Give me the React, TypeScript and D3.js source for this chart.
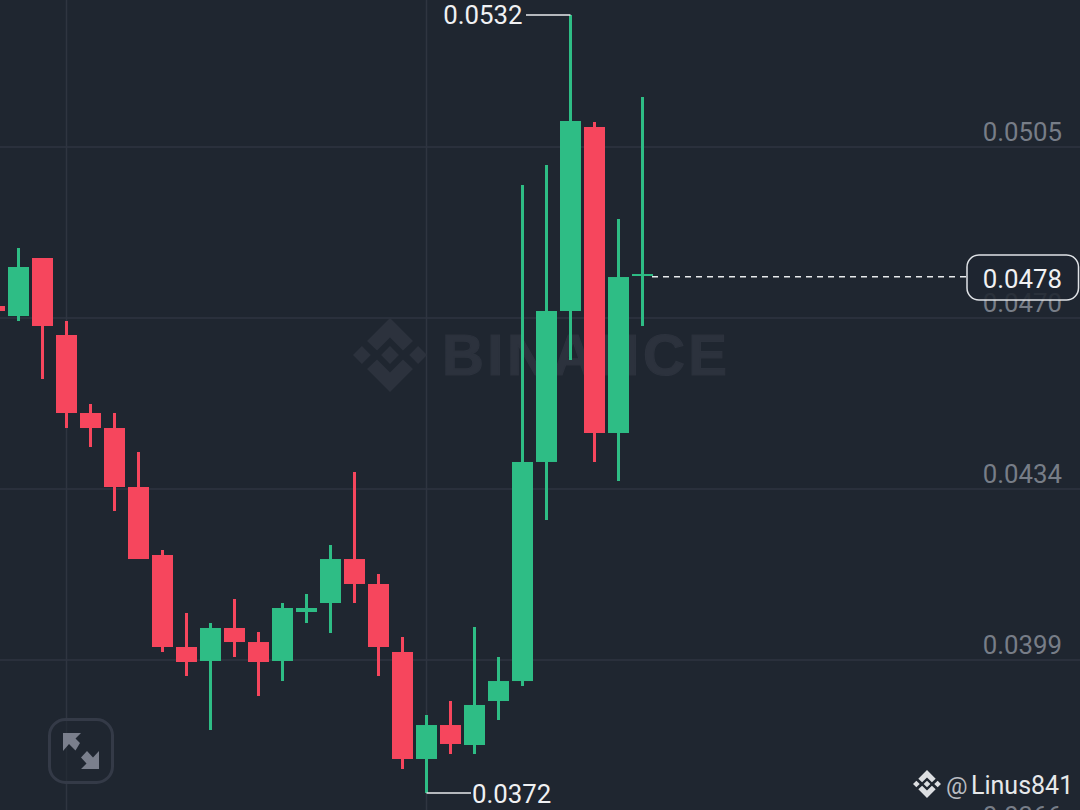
import React from "react";
import * as d3 from "d3";

const opens = [0.047214,0.047007,0.048206,0.046615,0.045003,0.044693,0.043474,0.042069,0.040168,0.039879,0.040561,0.040271,0.039879,0.040891,0.041077,0.041986,0.041470,0.040065,0.037854,0.038556,0.038143,0.039052,0.039465,0.043991,0.047111,0.050913,0.044590,0.047834];
const closes = [0.047111,0.048020,0.046801,0.045003,0.044693,0.043474,0.041986,0.040168,0.039858,0.040561,0.040271,0.039858,0.040974,0.040974,0.041986,0.041470,0.040168,0.037854,0.038556,0.038164,0.038970,0.039465,0.043991,0.047111,0.051037,0.044590,0.047813,0.047875];
const highs = [0.047214,0.048413,0.048206,0.046904,0.045189,0.045003,0.044197,0.042172,0.040871,0.040664,0.041160,0.040478,0.041077,0.041263,0.042276,0.043784,0.041676,0.040375,0.038763,0.039052,0.040581,0.039961,0.049714,0.050128,0.053227,0.051016,0.049012,0.051533];
const lows = [0.047111,0.046904,0.045706,0.044693,0.044301,0.042978,0.041986,0.040065,0.039569,0.038453,0.039961,0.039156,0.039465,0.040664,0.040457,0.041077,0.039569,0.037647,0.037151,0.037957,0.037957,0.038660,0.039362,0.042792,0.046098,0.043991,0.043598,0.046801];
const upFlags = [false,true,false,false,false,false,false,false,false,true,false,false,true,true,true,false,false,false,true,false,true,true,true,true,true,false,true,true];

const tickValues = [0.0505,0.046966,0.043433,0.0399,0.036366];
const tickLabels = ["0.0505","0.0470","0.0434","0.0399","0.0366"];
const lastPrice = 0.0478;
const highLabel = { value: 0.053227, text: "0.0532" };
const lowLabel = { value: 0.037151, text: "0.0372" };

const BG = "#1f2630";
const GRID = "#2f3540";
const UP = "#2ebd85";
const DOWN = "#f6465d";

const y = d3.scaleLinear().domain([0.0368, 0.053537]).range([810, 0]);
const x = d3.scaleLinear().domain([0, 27]).range([-5.5, 642.5]);

const chevronTop = "M0,-1L.62,-.38L.35,-.12L0,-.47L-.35,-.12L-.62,-.38Z";
const chevronBottom = "M0,1L.62,.38L.35,.12L0,.47L-.35,.12L-.62,.38Z";
const diamond = (cx: number, h: number) => `M${cx - h},0L${cx},${-h}L${cx + h},0L${cx},${h}Z`;

function Logo({ cx, cy, r, fill }: { cx: number; cy: number; r: number; fill: string }) {
  return (
    <g transform={`translate(${cx},${cy}) scale(${r})`} fill={fill}>
      <path d={chevronTop} />
      <path d={chevronBottom} />
      <path d={diamond(0, 0.24)} />
      <path d={diamond(-0.76, 0.24)} />
      <path d={diamond(0.76, 0.24)} />
    </g>
  );
}

export default function App() {
  const font = "Roboto, sans-serif";
  const lineY = y(lastPrice);
  return (
    <svg width={1080} height={810} style={{ position: "fixed", left: 0, top: 0, background: BG, display: "block" }}>
      <rect width={1080} height={810} fill={BG} />
      {[66.5, 426.5].map((gx) => (
        <line key={gx} x1={gx} x2={gx} y1={0} y2={810} stroke={GRID} strokeWidth={1.5} />
      ))}
      {tickValues.map((t) => (
        <line key={t} x1={0} x2={1080} y1={y(t)} y2={y(t)} stroke={GRID} strokeWidth={1.5} />
      ))}

      <Logo cx={390} cy={355} r={37} fill="#2c323d" />
      <text x={442} y={375} fontFamily="'Liberation Sans', sans-serif" fontWeight={700} fontSize={58} fill="#2c323d" stroke="#2c323d" strokeWidth={1.2} textLength={285} lengthAdjust="spacing">BINANCE</text>

      {tickValues.map((t, i) => (
        <text key={t} x={1062} y={y(t) - 6} textAnchor="end" fontFamily={font} fontSize={25.8} fill="#777d87">{tickLabels[i]}</text>
      ))}

      {opens.map((o, i) => {
        const c = closes[i];
        const color = upFlags[i] ? UP : DOWN;
        const top = y(Math.max(o, c));
        const bottom = y(Math.min(o, c));
        return (
          <g key={i}>
            <line x1={x(i)} x2={x(i)} y1={y(highs[i])} y2={y(lows[i])} stroke={color} strokeWidth={3} />
            <rect x={x(i) - 10.5} y={top} width={21} height={Math.max(bottom - top, 2)} fill={color} />
          </g>
        );
      })}

      <line x1={652} x2={967} y1={lineY - 0.8} y2={lineY - 0.8} stroke="#e8eaec" strokeWidth={1.5} strokeDasharray="6 5" />
      <rect x={967} y={255} width={111.5} height={45} rx={12} fill={BG} fillOpacity={0.88} stroke="#dfe2e6" strokeWidth={1.5} />
      <text x={1062} y={288} textAnchor="end" fontFamily={font} fontSize={25.8} fill="#f0f1f3">{lastPrice.toFixed(4)}</text>

      <path d={`M526,${y(highLabel.value)}H${x(24)}`} stroke="#e8eaec" strokeWidth={1.5} fill="none" />
      <text x={522.5} y={24} textAnchor="end" fontFamily={font} fontSize={25.8} fill="#f0f1f3">{highLabel.text}</text>
      <path d={`M${x(18)},${y(lowLabel.value)}H471`} stroke="#e8eaec" strokeWidth={1.5} fill="none" />
      <text x={472} y={803} fontFamily={font} fontSize={25.8} fill="#f0f1f3">{lowLabel.text}</text>

      <rect x={49.5} y={719.5} width={63} height={63} rx={16} fill={BG} fillOpacity={0.6} stroke="#343a47" strokeWidth={3} />
      <g fill="#7a7f8c" stroke="none">
        <path d="M63,733H81L75.5,738.5L80,743L75.5,750.5L69,744L63,751Z" />
        <path d="M99,769H81L86.5,763.5L81,757.500L87,751L93,757.500L99,751Z" />
      </g>

      <Logo cx={927} cy={784} r={14} fill="#dcdee1" />
      <text x={946} y={794} fontFamily={font} fontSize={24} fill="#b9bcc1">@</text>
      <text x={971} y={794} fontFamily={font} fontSize={25} fill="#e6e8ea">Linus841</text>
    </svg>
  );
}
